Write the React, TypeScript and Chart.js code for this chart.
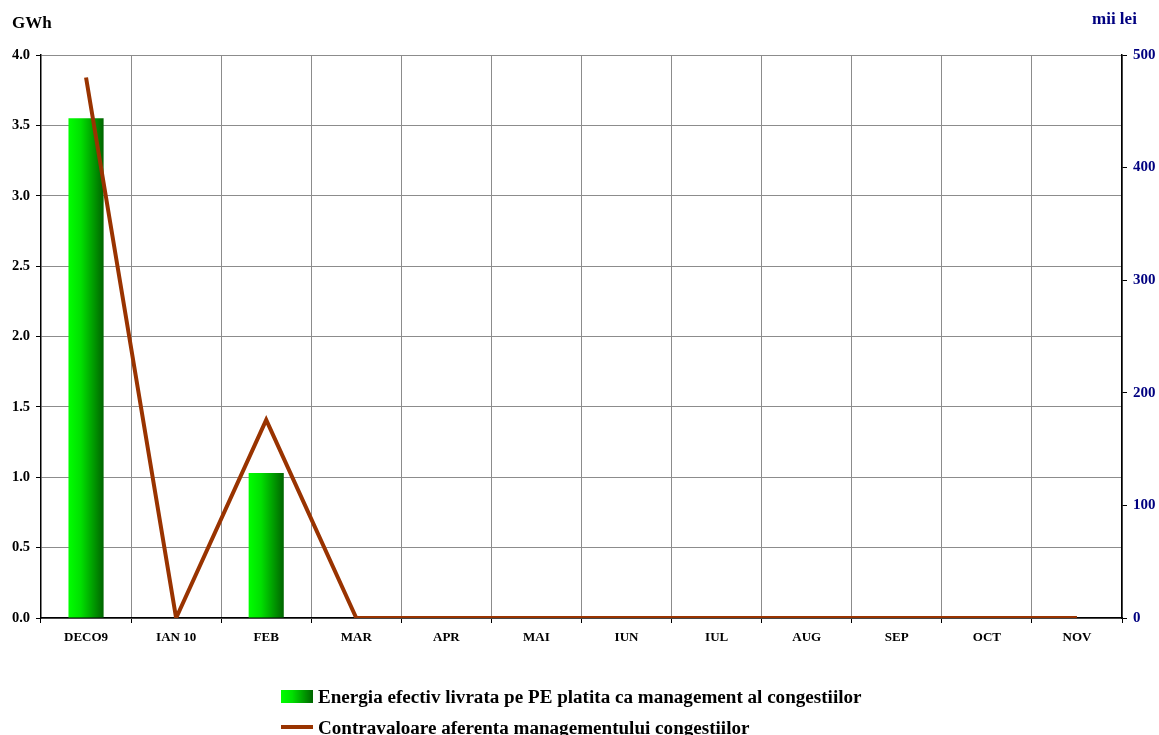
import React, { useEffect, useRef } from "react";
import { Chart, registerables } from "chart.js";

Chart.register(...registerables);

const categories = ["DECO9", "IAN 10", "FEB", "MAR", "APR", "MAI", "IUN", "IUL", "AUG", "SEP", "OCT", "NOV"];
const energyGWh = [3.55, null, 1.03, null, null, null, null, null, null, null, null, null];
const valueMiiLei = [480, 0, 176, 0, 0, 0, 0, 0, 0, 0, 0, 0];
const leftTicks = [0, 0.5, 1, 1.5, 2, 2.5, 3, 3.5, 4];
const rightTicks = [0, 100, 200, 300, 400, 500];

const energyLabel = "Energia efectiv livrata pe PE platita ca management al congestiilor";
const valueLabel = "Contravaloare aferenta managementului congestiilor";

const FONT = "'Liberation Serif', 'Times New Roman', serif";
const LINE_COLOR = "#993300";
const NAVY = "#000080";

export default function App() {
  const ref = useRef<HTMLCanvasElement | null>(null);

  useEffect(() => {
    if (!ref.current) return;
    const chart = new Chart(ref.current, {
      data: {
        labels: categories,
        datasets: [
          {
            type: "line",
            label: valueLabel,
            data: valueMiiLei,
            yAxisID: "y1",
            borderColor: LINE_COLOR,
            backgroundColor: LINE_COLOR,
            borderWidth: 4,
            pointRadius: 0,
            tension: 0,
            order: 0,
          },
          {
            type: "bar",
            label: energyLabel,
            data: energyGWh as any,
            yAxisID: "y",
            barPercentage: 0.39,
            categoryPercentage: 1,
            order: 1,
            backgroundColor: (ctx: any) => {
              const c = ctx.chart;
              const xs = c.scales && c.scales.x;
              if (!xs || ctx.dataIndex === undefined) return "#00cc00";
              const xc = xs.getPixelForValue(ctx.dataIndex);
              const half = (xs.width / categories.length) * 0.39 / 2;
              if (!isFinite(xc) || !isFinite(half) || half <= 0) return "#00cc00";
              const g = c.ctx.createLinearGradient(xc - half, 0, xc + half, 0);
              g.addColorStop(0, "#00ff00");
              g.addColorStop(0.35, "#00e000");
              g.addColorStop(1, "#006400");
              return g;
            },
          },
        ],
      },
      options: {
        animation: false,
        responsive: false,
        maintainAspectRatio: false,
        layout: { padding: { left: 0, right: 0, top: 55, bottom: 77 } },
        plugins: {
          legend: { display: false },
          tooltip: { enabled: false },
        },
        scales: {
          x: {
            offset: true,
            grid: {
              offset: true,
              color: "#8c8c8c",
              tickColor: "#000000",
              tickLength: 5,
              lineWidth: 1,
            },
            border: { color: "#000000", width: 1.5 },
            ticks: {
              color: "#000000",
              padding: 7,
              maxRotation: 0,
              autoSkip: false,
              font: { family: FONT, size: 13, weight: "bold" },
            },
            afterFit: (s: any) => {
              s.height = 40;
            },
          },
          y: {
            position: "left",
            min: 0,
            max: 4,
            afterBuildTicks: (s: any) => {
              s.ticks = leftTicks.map((v) => ({ value: v }));
            },
            grid: {
              color: "#8c8c8c",
              tickColor: "#000000",
              tickLength: 5,
              lineWidth: 1,
            },
            border: { color: "#000000", width: 1.5 },
            ticks: {
              color: "#000000",
              padding: 6,
              font: { family: FONT, size: 14.5, weight: "bold" },
              callback: (v: any) => Number(v).toFixed(1),
            },
            afterFit: (s: any) => {
              s.width = 41;
            },
          },
          y1: {
            position: "right",
            min: 0,
            max: 500,
            afterBuildTicks: (s: any) => {
              s.ticks = rightTicks.map((v) => ({ value: v }));
            },
            grid: {
              drawOnChartArea: false,
              tickColor: "#000000",
              tickLength: 5,
            },
            border: { color: "#000000", width: 1.5 },
            ticks: {
              color: NAVY,
              padding: 6,
              font: { family: FONT, size: 15, weight: "bold" },
              callback: (v: any) => String(v),
            },
            afterFit: (s: any) => {
              s.width = 37;
            },
          },
        },
      } as any,
    });
    return () => chart.destroy();
  }, []);

  const textStyle: React.CSSProperties = {
    position: "absolute",
    fontFamily: FONT,
    fontWeight: "bold",
    whiteSpace: "nowrap",
    lineHeight: 1,
  };

  return (
    <div
      style={{
        position: "absolute",
        left: 0,
        top: 0,
        width: 1159,
        height: 735,
        overflow: "hidden",
        background: "#ffffff",
      }}
    >
      <canvas ref={ref} width={1159} height={735} style={{ position: "absolute", left: 0, top: 0 }} />
      <div style={{ ...textStyle, left: 12, top: 14, fontSize: 17, color: "#000000" }}>GWh</div>
      <div style={{ ...textStyle, left: 1092, top: 10, fontSize: 17, color: NAVY }}>mii lei</div>
      <div style={{ position: "absolute", left: 281, top: 690, width: 32, height: 13, background: "linear-gradient(to right, #00ff00, #00e000 35%, #006400)" }} />
      <div style={{ ...textStyle, left: 318, top: 687, fontSize: 19.1, color: "#000000" }}>{energyLabel}</div>
      <div style={{ position: "absolute", left: 281, top: 725, width: 32, height: 4, background: LINE_COLOR }} />
      <div style={{ ...textStyle, left: 318, top: 718, fontSize: 19.1, color: "#000000" }}>{valueLabel}</div>
    </div>
  );
}
